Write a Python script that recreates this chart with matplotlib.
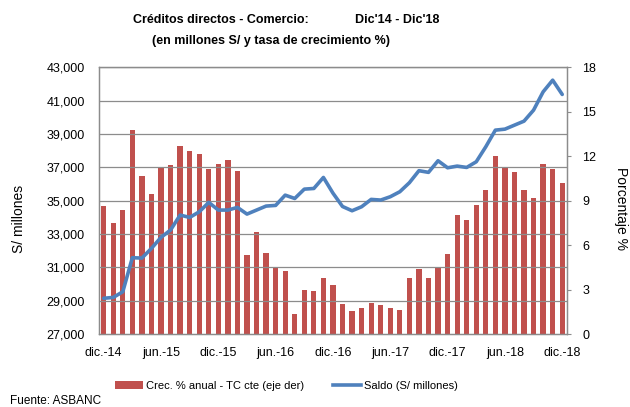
import numpy as np
import matplotlib.pyplot as plt
from matplotlib.patches import Patch
from matplotlib.lines import Line2D

# monthly data dic-14 .. dic-18
tick_labels = ['dic.-14', 'jun.-15', 'dic.-15', 'jun.-16', 'dic.-16',
               'jun.-17', 'dic.-17', 'jun.-18', 'dic.-18']

crec_anual = [8.63, 7.49, 8.36, 13.77, 10.63, 9.42, 11.21, 11.37, 12.71, 12.33,
              12.15, 11.12, 11.50, 11.77, 11.03, 5.34, 6.86, 5.49, 4.51, 4.28,
              1.39, 3.00, 2.94, 3.79, 3.32, 2.04, 1.57, 1.79, 2.11, 1.95,
              1.79, 1.64, 3.79, 4.37, 3.79, 4.51, 5.40, 8.00, 7.67, 8.70,
              9.75, 12.00, 11.28, 10.94, 9.75, 9.21, 11.44, 11.12, 10.22]

saldo = [29150, 29200, 29540, 31580, 31560, 32140, 32800, 33240, 34135, 33995,
         34330, 34895, 34435, 34435, 34595, 34195, 34435, 34675, 34715, 35330,
         35130, 35690, 35730, 36390, 35450, 34650, 34395, 34635, 35075, 35035,
         35235, 35535, 36075, 36795, 36695, 37390, 36970, 37070, 36990, 37330,
         38230, 39225, 39285, 39525, 39765, 40425, 41520, 42220, 41365]

red = '#C0504D'
blue = '#4F81BD'
grid_color = '#8C8C8C'
font = 'Liberation Sans'

x = np.arange(len(saldo))

fig = plt.figure(figsize=(6.3, 4.07), dpi=100)
ax = fig.add_axes([0.157, 0.179, 0.743, 0.656])
ax2 = ax.twinx()

# bars go on the right axis, line on the left axis, line drawn above bars
ax2.bar(x, crec_anual, width=0.55, color=red, zorder=2)
ax.set_zorder(ax2.get_zorder() + 1)
ax.patch.set_visible(False)
ax.plot(x, saldo, color=blue, linewidth=2.6, solid_joinstyle='round',
        solid_capstyle='round', zorder=3)

ax.set_ylim(27000, 43000)
ax.set_yticks(np.arange(27000, 43001, 2000))
ax.set_yticklabels([f'{v:,}' for v in range(27000, 43001, 2000)],
                   fontsize=9, family=font)
ax2.set_ylim(0, 18)
ax2.set_yticks(np.arange(0, 19, 3))
ax2.set_yticklabels([str(v) for v in range(0, 19, 3)], fontsize=9, family=font)

ax.set_xlim(-0.5, len(saldo) - 0.5)
ax.set_xticks(np.arange(0, len(saldo), 6))
ax.set_xticklabels(tick_labels, fontsize=9, family=font)

for v in range(29000, 43001, 2000):
    ax.axhline(v, color=grid_color, linewidth=0.9, zorder=0)

ax.tick_params(axis='y', length=0, pad=10)
ax.tick_params(axis='x', length=0, pad=9)
ax2.tick_params(axis='y', length=3, color=grid_color, pad=8)

for a in (ax, ax2):
    for s in a.spines.values():
        s.set_color(grid_color)
        s.set_linewidth(0.9)

ax.set_ylabel('S/ millones', fontsize=10, family=font)
ax.yaxis.set_label_coords(-0.155, 0.43)
ax2.set_ylabel('Porcentaje %', fontsize=10, family=font, rotation=-90)
ax2.yaxis.set_label_coords(1.13, 0.47)

title_font = dict(fontsize=9, fontweight='bold', family=font, va='center')
fig.text(133 / 630, 1 - 20 / 407, 'Créditos directos - Comercio:',
         ha='left', **title_font)
fig.text(355 / 630, 1 - 20 / 407, "Dic'14 - Dic'18", ha='left', **title_font)
fig.text(152 / 630, 1 - 41 / 407, '(en millones S/ y tasa de crecimiento %)',
         ha='left', **title_font)

handles = [Patch(facecolor=red), Line2D([0], [0], color=blue, linewidth=2.6)]
fig.legend(handles, ['Crec. % anual - TC cte (eje der)', 'Saldo (S/ millones)'],
           loc='center left', bbox_to_anchor=(105 / 630, 1 - 386 / 407), ncol=2,
           frameon=False, prop={'family': font, 'size': 8}, handlelength=2.5,
           handletextpad=0.3, columnspacing=2.6)

fig.text(10 / 630, 1 - 401 / 407, 'Fuente: ASBANC', fontsize=8.5, family=font,
         va='center')

fig.savefig('out.png', dpi=100)
